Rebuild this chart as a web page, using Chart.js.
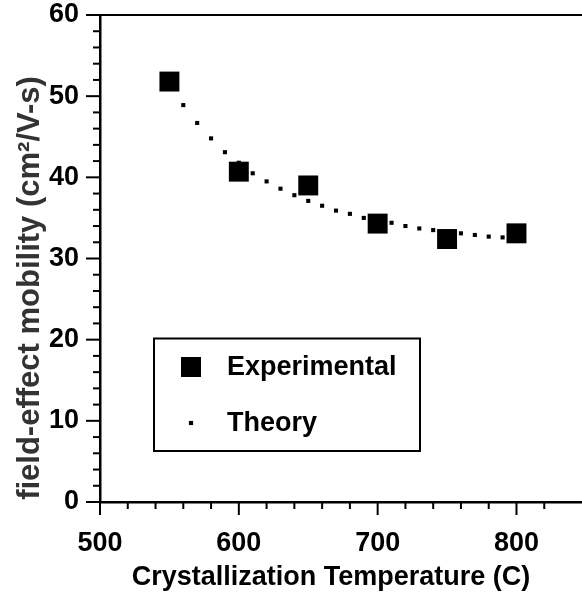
<!DOCTYPE html>
<html>
<head>
<meta charset="utf-8">
<script src="https://cdn.jsdelivr.net/npm/chart.js@4.4.1/dist/chart.umd.min.js"></script>
<style>
html, body { margin: 0; padding: 0; background: #fff; overflow: hidden; }
#wrap { width: 582px; height: 594px; overflow: hidden; }
canvas { display: block; }
</style>
</head>
<body>
<div id="wrap"><canvas id="myChart" width="600" height="594"></canvas></div>
<script>
// experimental points
const expTemps = [550, 600, 650, 700, 750, 800];
const expMobility = [51.8, 40.7, 39.0, 34.3, 32.4, 33.1];

// theory curve (dotted)
const theoryTemps = [550, 560, 570, 580, 590, 600, 610, 620, 630, 640, 650, 660, 670,
                     680, 690, 700, 710, 720, 730, 740, 750, 760, 770, 780, 790, 800];
const theoryMobility = [51.2, 48.9, 46.7, 44.8, 43.1, 41.8, 40.5, 39.5, 38.6, 37.8, 37.1, 36.5, 35.9,
                        35.5, 35.0, 34.7, 34.4, 34.0, 33.7, 33.5, 33.3, 33.1, 32.9, 32.7, 32.6, 32.5];

// tick labels
const xTickLabels = [500, 600, 700, 800];
const yTickLabels = [0, 10, 20, 30, 40, 50, 60];

const seriesNames = ['Experimental', 'Theory'];
const xTitle = 'Crystallization Temperature (C)';
const yTitle = 'field-effect mobility (cm\u00B2/V-s)';

const FONT = '"Liberation Sans", Arial, sans-serif';

function toPoints(xs, ys) {
    return xs.map((x, i) => ({ x: x, y: ys[i] }));
}

// tick marks outside the axes (long = labelled, short = minor), plus top frame line
const tickMarks = {
    id: 'tickMarks',
    afterDraw(chart) {
        const ctx = chart.ctx;
        const area = chart.chartArea;
        const xs = chart.scales.x, ys = chart.scales.y;
        ctx.save();
        ctx.strokeStyle = '#000';
        ctx.lineWidth = 2;
        xs.ticks.forEach(t => {
            const px = xs.getPixelForValue(t.value);
            const major = xTickLabels.includes(t.value);
            ctx.beginPath();
            ctx.moveTo(px, area.bottom);
            ctx.lineTo(px, area.bottom + (major ? 13 : 7));
            ctx.stroke();
        });
        ys.ticks.forEach(t => {
            const py = ys.getPixelForValue(t.value);
            const major = yTickLabels.includes(t.value);
            ctx.beginPath();
            ctx.moveTo(area.left, py);
            ctx.lineTo(area.left - (major ? 14 : 7), py);
            ctx.stroke();
        });
        // top frame
        ctx.beginPath();
        ctx.moveTo(area.left, area.top);
        ctx.lineTo(area.right, area.top);
        ctx.stroke();
        ctx.restore();
    }
};

// axis titles placed like the original
const axisTitles = {
    id: 'axisTitles',
    afterDraw(chart) {
        const ctx = chart.ctx;
        ctx.save();
        ctx.fillStyle = '#000';
        ctx.font = 'bold 27px ' + FONT;
        ctx.textAlign = 'center';
        ctx.textBaseline = 'alphabetic';
        ctx.fillText(xTitle, 331, 585);

        ctx.translate(39, 288);
        ctx.rotate(-Math.PI / 2);
        ctx.fillStyle = '#333';
        ctx.font = 'bold 31px ' + FONT;
        ctx.fillText(yTitle, 0, 0);
        ctx.restore();
    }
};

// boxed legend inside the plot
const boxLegend = {
    id: 'boxLegend',
    afterDraw(chart) {
        const ctx = chart.ctx;
        ctx.save();
        ctx.strokeStyle = '#000';
        ctx.lineWidth = 2;
        ctx.strokeRect(154, 338.5, 266, 112.5);
        ctx.font = 'bold 27px ' + FONT;
        ctx.textBaseline = 'middle';
        ctx.textAlign = 'left';
        ctx.fillStyle = '#000';
        const rows = [367, 423];
        chart.data.datasets.forEach((ds, i) => {
            Chart.helpers.drawPoint(ctx, {
                pointStyle: ds.pointStyle,
                radius: ds.pointRadius,
                borderWidth: 0
            }, 191, rows[i]);
            ctx.fillStyle = '#000';
            ctx.fill();
            ctx.fillText(ds.label, 227, rows[i] + 1);
        });
        ctx.restore();
    }
};

const ctx = document.getElementById('myChart').getContext('2d');
const myChart = new Chart(ctx, {
    type: 'scatter',
    data: {
        datasets: [{
            label: seriesNames[0],
            data: toPoints(expTemps, expMobility),
            pointStyle: 'rect',
            pointRadius: 14.1,
            pointHoverRadius: 14.1,
            backgroundColor: '#000',
            borderColor: '#000',
            borderWidth: 0,
            showLine: false
        }, {
            label: seriesNames[1],
            data: toPoints(theoryTemps, theoryMobility),
            pointStyle: 'rect',
            pointRadius: 2.9,
            pointHoverRadius: 2.9,
            backgroundColor: '#000',
            borderColor: '#000',
            borderWidth: 0,
            showLine: false
        }]
    },
    options: {
        responsive: false,
        animation: false,
        layout: { padding: { top: 15, right: 12.5, left: 0, bottom: 0 } },
        plugins: {
            legend: { display: false },
            tooltip: { enabled: false }
        },
        scales: {
            x: {
                type: 'linear',
                min: 500,
                max: 850,
                afterFit: s => { s.height = 92; s.paddingLeft = 0; s.paddingRight = 0; },
                grid: { display: false },
                border: { display: true, color: '#000', width: 2.5 },
                ticks: {
                    stepSize: 20,
                    autoSkip: false,
                    maxRotation: 0,
                    padding: 17,
                    color: '#000',
                    font: { family: FONT, size: 27, weight: 'bold' },
                    callback: v => xTickLabels.includes(v) ? String(v) : ''
                }
            },
            y: {
                min: 0,
                max: 60,
                afterFit: s => { s.width = 100; s.paddingTop = 0; s.paddingBottom = 0; },
                grid: { display: false },
                border: { display: true, color: '#000', width: 2.5 },
                ticks: {
                    stepSize: 2,
                    autoSkip: false,
                    padding: 13,
                    color: '#000',
                    font: { family: FONT, size: 27, weight: 'bold' },
                    callback: v => yTickLabels.includes(v) ? String(v) : ''
                }
            }
        }
    },
    plugins: [tickMarks, axisTitles, boxLegend]
});
</script>
</body>
</html>
